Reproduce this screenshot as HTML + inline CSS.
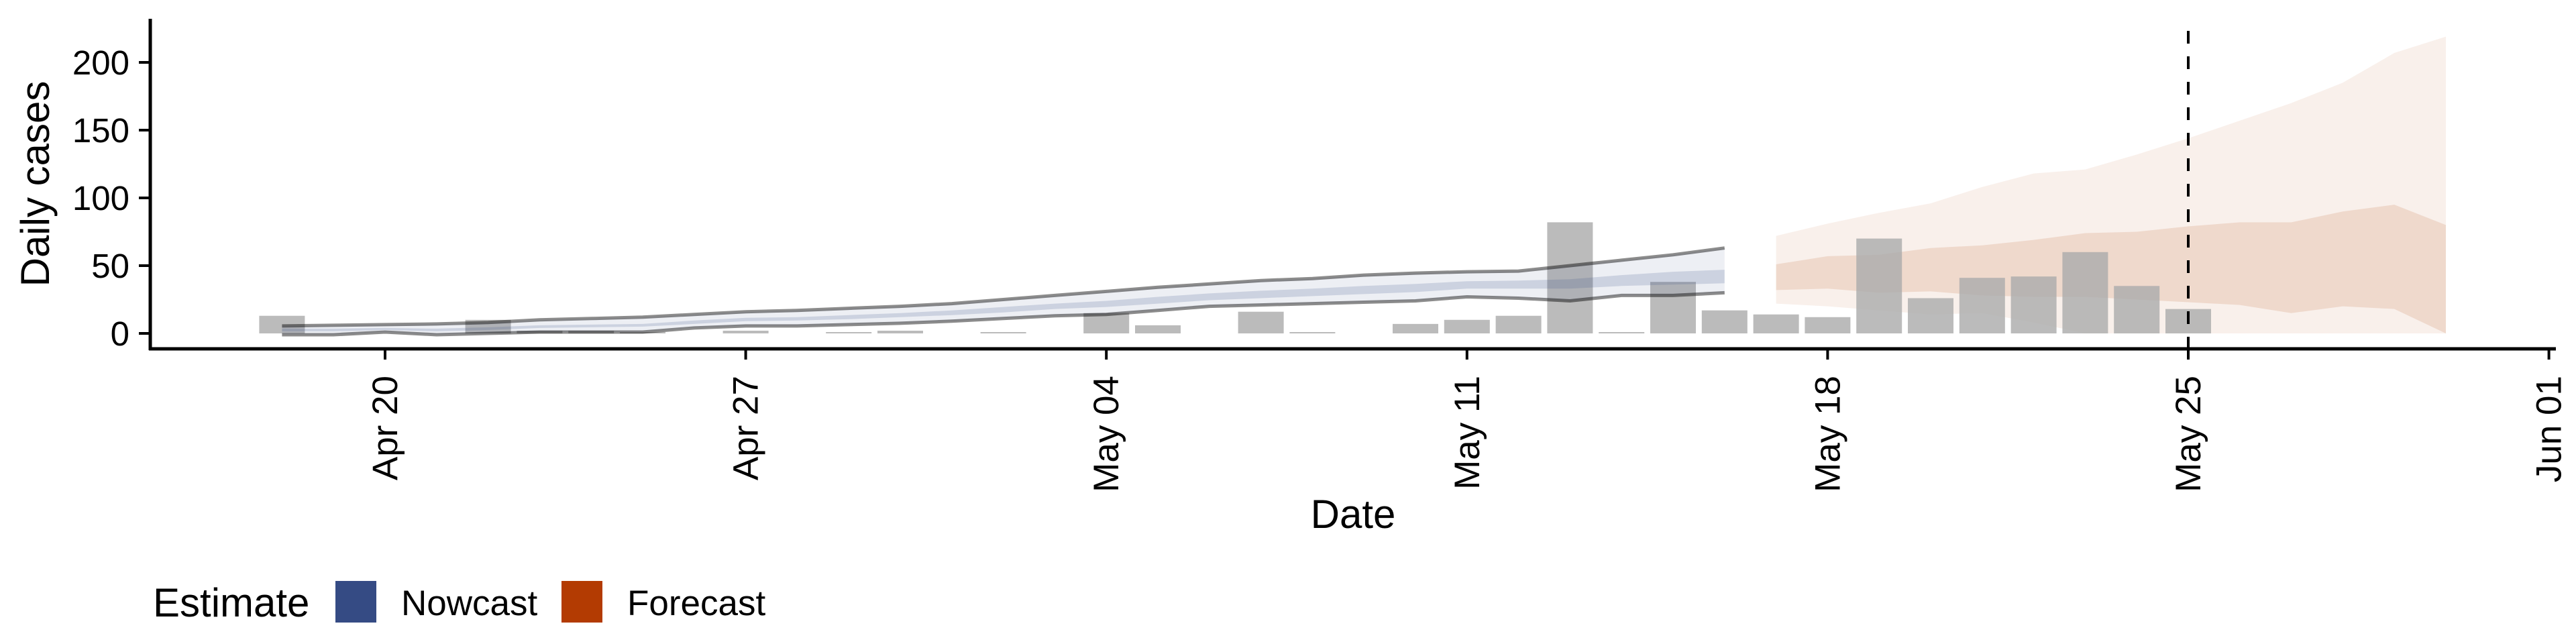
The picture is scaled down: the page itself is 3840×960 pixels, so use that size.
<!DOCTYPE html>
<html><head><meta charset="utf-8"><style>
html,body{margin:0;padding:0;background:#fff;}
svg{display:block;font-family:"Liberation Sans",Arial,sans-serif;}
</style></head><body>
<svg id="chart" width="3840" height="960" viewBox="0 0 3840 960" xmlns="http://www.w3.org/2000/svg">
<g id="forecast-layer"></g>
<g id="bar-layer"></g>
<g id="nowcast-layer"></g>
<g id="axis-layer"></g>
<text x="0" y="0" transform="translate(73,274) rotate(-90)" text-anchor="middle" font-size="60">Daily cases</text>
<text x="2017" y="787" text-anchor="middle" font-size="60">Date</text>
<g>
<text x="228" y="919" font-size="60">Estimate</text>
<rect x="500" y="866" width="61" height="62" fill="#354b84"/>
<text x="598" y="917" font-size="53">Nowcast</text>
<rect x="837" y="866" width="61" height="62" fill="#b33b02"/>
<text x="935" y="917" font-size="53">Forecast</text>
</g>
</svg>
<script>
// Days counted from Apr 18
const barValues = [13,0,0,0,10,2,2,1,0,2,0,1,2,0,1,0,15,6,0,16,1,0,7,10,13,82,1,38,17,14,12,70,26,41,42,60,35,18];
const nowcastUpper = [5.5,6,6.5,7,8,10,11,12,14,16,17,18.5,20,22,25,28,31,34,36.5,39,40.5,43,44.5,45.5,46,50,54,58,63];
const nowcastLower = [-1,-1,1,-1,0,1,1,1,4,5.5,5.5,6.5,7.5,9,11,13,14,17,20,21,22,23,24,27,26,24,28,28,30];
const nowcastInnerUpper = [3.5,3.5,4,3.5,4.5,6,6.5,7,9.5,11.5,12,13.5,15,17,19.5,22,24,27,29.5,31.5,33,35,36.5,38.5,39,40,43,45.5,47];
const nowcastInnerLower = [1.5,1.5,2.5,1.5,2.5,4,4.5,5,7,9,9.5,10.5,12,13.5,15.5,18,19.5,22,24.5,26,27.5,29,30.5,33,33,33,35,36,37];
const forecastStart = 29; // May 17
const forecastUpper = [72,81,89,96,108,118,121,132,144,157,170,185,207,219];
const forecastLower = [22,20,17,14,15,8,0,0,0,0,0,0,0,0];
const forecastInnerUpper = [51,57,58,63,65,69,74,75,79,82,82,90,95,80];
const forecastInnerLower = [32,33,30,31,28,27,27,25,23,21,15,20,18,0];
const yTicks = [0,50,100,150,200];
const xTickDays = [2,9,16,23,30,37,44];
const xTickLabels = ["Apr 20","Apr 27","May 04","May 11","May 18","May 25","Jun 01"];
const dataDateDay = 37;

const NS = "http://www.w3.org/2000/svg";
const X = d => 574 + (d - 2) * 76.8;
const Y = v => 497 - v * 2.02;
function mk(tag, attrs, parent) {
  const e = document.createElementNS(NS, tag);
  for (const k in attrs) e.setAttribute(k, attrs[k]);
  parent.appendChild(e);
  return e;
}
function bandPath(up, lo, start) {
  let p = "";
  up.forEach((v, i) => { p += (i ? "L" : "M") + X(start + i).toFixed(1) + "," + Y(v).toFixed(1); });
  for (let i = lo.length - 1; i >= 0; i--) p += "L" + X(start + i).toFixed(1) + "," + Y(lo[i]).toFixed(1);
  return p + "Z";
}
function linePath(vals, start) {
  return vals.map((v, i) => (i ? "L" : "M") + X(start + i).toFixed(1) + "," + Y(v).toFixed(1)).join("");
}
const fL = document.getElementById("forecast-layer");
const bL = document.getElementById("bar-layer");
const nL = document.getElementById("nowcast-layer");
const aL = document.getElementById("axis-layer");

let e;
e = mk("path", {d: bandPath(forecastUpper, forecastLower, forecastStart), fill: "rgb(178,58,2)", "fill-opacity": 0.08}, fL);


e = mk("path", {d: bandPath(forecastInnerUpper, forecastInnerLower, forecastStart), fill: "rgb(178,58,2)", "fill-opacity": 0.13}, fL);



barValues.forEach((v, i) => {
  const b = mk("rect", {x: X(i) - 34, y: Y(v), width: 68, height: Math.max(0, Y(0) - Y(v)), fill: "rgb(172,172,172)", "fill-opacity": 0.82}, bL);
  
  
});

e = mk("path", {d: bandPath(nowcastUpper, nowcastLower, 0), fill: "rgb(53,75,132)", "fill-opacity": 0.09}, nL);


e = mk("path", {d: bandPath(nowcastInnerUpper, nowcastInnerLower, 0), fill: "rgb(53,75,132)", "fill-opacity": 0.18}, nL);


e = mk("path", {d: linePath(nowcastUpper, 0), fill: "none", stroke: "#000", "stroke-opacity": 0.45, "stroke-width": 5}, nL);


e = mk("path", {d: linePath(nowcastLower, 0), fill: "none", stroke: "#000", "stroke-opacity": 0.45, "stroke-width": 5}, nL);



e = mk("line", {x1: X(dataDateDay), x2: X(dataDateDay), y1: 46, y2: 520, stroke: "#000", "stroke-width": 4, "stroke-dasharray": "19 19"}, aL);



e = mk("line", {x1: 224, x2: 224, y1: 28, y2: 522, stroke: "#000", "stroke-width": 5}, aL);


e = mk("line", {x1: 222, x2: 3810, y1: 520, y2: 520, stroke: "#000", "stroke-width": 5}, aL);



yTicks.forEach(v => {
  const t = mk("line", {x1: 207, x2: 224, y1: Y(v), y2: Y(v), stroke: "#000", "stroke-width": 4}, aL);
  
  
  const l = mk("text", {x: 193, y: Y(v) + 18, "text-anchor": "end", "font-size": 51}, aL);
  
  
  l.textContent = v;
});
xTickDays.forEach((d, i) => {
  const t = mk("line", {x1: X(d), x2: X(d), y1: 520, y2: 536, stroke: "#000", "stroke-width": 4}, aL);
  
  
  const l = mk("text", {transform: "translate(" + (X(d) + 18) + ",560) rotate(-90)", "text-anchor": "end", "font-size": 53}, aL);
  
  
  l.textContent = xTickLabels[i];
});
</script>
</body></html>
